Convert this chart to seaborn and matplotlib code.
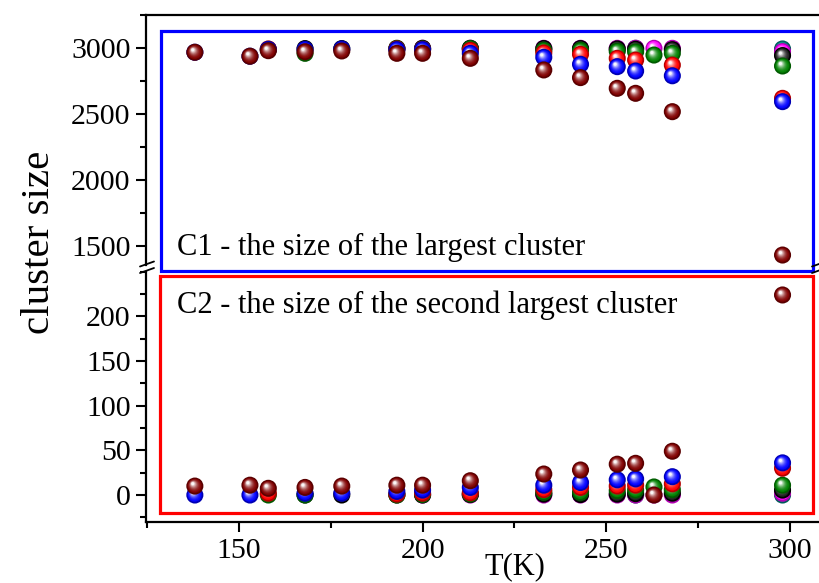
import numpy as np
import pandas as pd
import matplotlib
matplotlib.use("Agg")
import matplotlib.pyplot as plt
import matplotlib.transforms as mtransforms
from matplotlib.colors import to_rgb
from matplotlib.ticker import MultipleLocator
from matplotlib.lines import Line2D
from matplotlib.patches import Rectangle
import seaborn as sns

nan = np.nan

# Temperatures (K)
temperature = [138, 153, 158, 168, 178, 193, 200, 213, 233, 243, 253, 258, 263, 268, 298]

# C1: size of the largest cluster, one list per run
c1_teal    = [nan, nan, nan, nan, nan, nan, nan, nan, nan, nan, nan, 3000, nan, nan, 2995]
c1_magenta = [nan, nan, nan, nan, nan, nan, 3000, 3000, 3000, 3000, 3000, 3000, 3000, 3000, 2975]
c1_black   = [nan, nan, nan, 2998, 2998, 3000, 3000, 3000, 2998, 2998, 2995, 2993, nan, 2990, 2945]
c1_green   = [nan, nan, 2990, 2962, nan, 2998, 2995, 2998, 2985, 2985, 2978, 2973, 2949, 2962, 2866]
c1_red     = [nan, nan, 2995, nan, nan, 2995, 2992, 2985, 2965, 2955, 2924, 2911, nan, 2873, 2621]
c1_blue    = [2970, 2940, 2992, 2992, 2995, 2990, 2990, 2962, 2932, 2879, 2861, 2828, nan, 2792, 2596]
c1_maroon  = [2970, 2940, 2982, 2974, 2980, 2962, 2962, 2924, 2836, 2778, 2697, 2659, nan, 2520, 1434]

# C2: size of the second largest cluster
c2_teal    = [nan, nan, nan, nan, nan, nan, nan, nan, nan, nan, nan, 0, nan, nan, 0]
c2_magenta = [nan, nan, nan, nan, nan, nan, 0, 0, 0, 0, 0, 0, 0, 0, 2]
c2_black   = [nan, nan, nan, 0, 0, 0, 0, 0.5, 1, 0.5, 1, 1.5, nan, 2, 5.5]
c2_green   = [nan, nan, 0, 0, nan, 0, 0.5, 1, 3, 3, 5, 5.5, 9, 6, 11]
c2_red     = [nan, nan, 2, nan, nan, 1, 2, 2.5, 6, 8.5, 10, 11, nan, 12.5, 30]
c2_blue    = [0, 0, nan, 2, 2, 4, 5.5, 8.5, 11, 14, 17, 18, nan, 20.5, 36]
c2_maroon  = [10, 11, 7.5, 8.5, 10, 11, 11, 16, 23.5, 28, 34.5, 35.5, 0, 49, 224]

# drawing order (last one on top)
series_names = ["teal", "magenta", "black", "green", "red", "blue", "maroon"]
series_colors = ["#008080", "#ff00ff", "#000000", "#008000", "#ff0000", "#0000ff", "#800000"]
c1_series = [c1_teal, c1_magenta, c1_black, c1_green, c1_red, c1_blue, c1_maroon]
c2_series = [c2_teal, c2_magenta, c2_black, c2_green, c2_red, c2_blue, c2_maroon]

rows = []
for name, v1, v2 in zip(series_names, c1_series, c2_series):
    for t, a, b in zip(temperature, v1, v2):
        rows.append({"run": name, "T": t, "C1": a, "C2": b})
df = pd.DataFrame(rows)

sns.set_style("ticks")
plt.rcParams["font.family"] = ["Liberation Serif", "DejaVu Serif"]
plt.rcParams["text.color"] = "black"
plt.rcParams["axes.labelcolor"] = "black"
plt.rcParams["xtick.color"] = "black"
plt.rcParams["ytick.color"] = "black"

W, H = 820, 583
fig = plt.figure(figsize=(W / 100, H / 100), dpi=100)


def fx(px):
    return px / W


def fy(py):
    return 1 - py / H


ax_top = fig.add_axes([fx(146), fy(264.8), fx(820) - fx(146), fy(15.3) - fy(264.8)])
ax_bot = fig.add_axes([fx(146), fy(521.8), fx(820) - fx(146), fy(271.75) - fy(521.8)])

MARKER_PT = 12.3


def sphere(ax, data, ycol, color):
    """Glossy ball markers: a darker rim, then lighter discs shifted to the upper left."""
    base = np.array(to_rgb(color))
    rim = base * 0.7
    sns.scatterplot(data=data, x="T", y=ycol, ax=ax, color=rim, s=MARKER_PT ** 2,
                    edgecolor="none", linewidth=0, legend=False, zorder=3)
    n = 9
    for i in range(n):
        f = (i + 1) / n
        d = MARKER_PT * (0.9 - 0.72 * f)
        w = 0.97 * f ** 2.0
        shade = base if color != "#000000" else np.array([0.12, 0.12, 0.12])
        col = shade * (1 - w) + w
        tr = mtransforms.offset_copy(ax.transData, fig=fig,
                                     x=-0.12 * MARKER_PT * f, y=0.14 * MARKER_PT * f,
                                     units="points")
        ax.scatter(data["T"], data[ycol], s=d ** 2, color=[col], edgecolors="none",
                   linewidths=0, transform=tr, zorder=3)


for name, color in zip(series_names, series_colors):
    sub = df[df["run"] == name]
    sphere(ax_top, sub, "C1", color)
    sphere(ax_bot, sub, "C2", color)

xlim = (124.7, 308.2)
for ax in (ax_top, ax_bot):
    ax.set_xlim(*xlim)
    ax.set_xlabel("")
    ax.set_ylabel("")
    ax.spines["right"].set_visible(False)
    for s in ax.spines.values():
        s.set_linewidth(1.6)
        s.set_color("black")
    ax.tick_params(axis="both", which="major", direction="out", length=7, width=1.5,
                   labelsize=21.5, pad=4, colors="black", labelcolor="black")
    ax.tick_params(axis="both", which="minor", direction="out", length=4, width=1.5,
                   colors="black")
    ax.set_facecolor("none")

ax_top.set_ylim(1360, 3250)
ax_top.spines["bottom"].set_visible(False)
ax_top.tick_params(axis="x", which="both", bottom=False, labelbottom=False)
ax_top.yaxis.set_major_locator(MultipleLocator(500))
ax_top.yaxis.set_minor_locator(MultipleLocator(250))
ax_top.set_yticks([1500, 2000, 2500, 3000])

ax_bot.set_ylim(-30, 250)
ax_bot.spines["top"].set_visible(False)
ax_bot.yaxis.set_major_locator(MultipleLocator(50))
ax_bot.yaxis.set_minor_locator(MultipleLocator(25))
ax_bot.set_yticks([0, 50, 100, 150, 200])
ax_bot.xaxis.set_major_locator(MultipleLocator(50))
ax_bot.xaxis.set_minor_locator(MultipleLocator(25))
ax_bot.tick_params(axis="x", which="major", pad=5)

# panel frames
fig.add_artist(Rectangle((fx(161), fy(270.7)), fx(813) - fx(161), fy(30.7) - fy(270.7),
                         fill=False, edgecolor="#0000ff", linewidth=2.3,
                         transform=fig.transFigure, zorder=1))
fig.add_artist(Rectangle((fx(160), fy(512.7)), fx(813) - fx(160), fy(275.5) - fy(512.7),
                         fill=False, edgecolor="#ff0000", linewidth=2.3,
                         transform=fig.transFigure, zorder=1))

# axis break marks
for x0 in (140, 812):
    for yb in (266.5, 273.0):
        fig.add_artist(Line2D([fx(x0), fx(x0 + 14)], [fy(yb), fy(yb - 5)],
                              color="black", linewidth=1.3, transform=fig.transFigure))

fig.text(fx(177), fy(255), "C1 - the size of the largest cluster", fontsize=22,
         ha="left", va="baseline", color="black")
fig.text(fx(177), fy(313.5), "C2 - the size of the second largest cluster", fontsize=22,
         ha="left", va="baseline", color="black")

fig.text(fx(40), fy(242), "cluster size", fontsize=29.5, rotation=90,
         ha="center", va="center", color="black")
fig.text(fx(515), fy(567), "T(K)", fontsize=22, ha="center", va="center", color="black")

fig.savefig("out.png", dpi=100)
